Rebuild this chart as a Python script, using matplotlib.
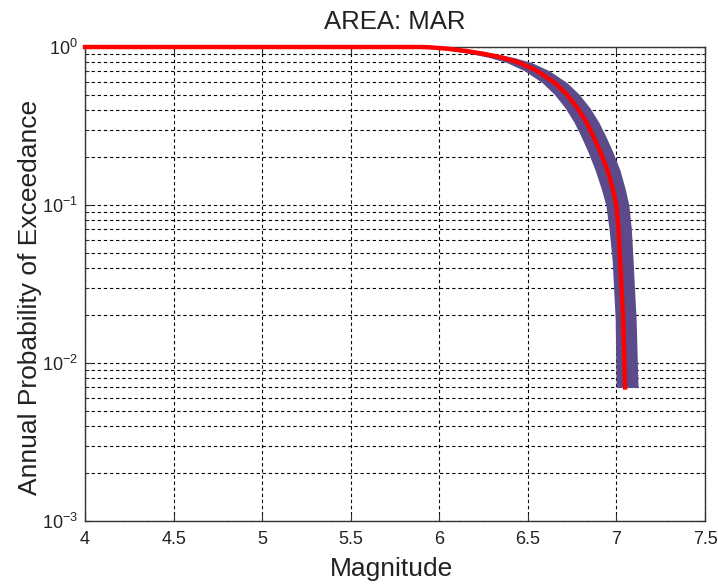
import matplotlib
matplotlib.use("Agg")
import matplotlib.pyplot as plt
from matplotlib.ticker import LogLocator, NullFormatter, FixedLocator, FixedFormatter

plt.rcParams['font.family'] = ['Liberation Sans', 'DejaVu Sans']
plt.rcParams['mathtext.default'] = 'regular'

# mean exceedance curve (red)
mag_mean = [4.0, 5.90, 5.95, 6.05, 6.15, 6.25, 6.35, 6.45, 6.55, 6.65, 6.72,
            6.78, 6.83, 6.87, 6.91, 6.95, 6.98, 7.00, 7.012, 7.021, 7.030,
            7.038, 7.049]
prob = [1.0, 1.0, 0.995, 0.975, 0.944, 0.906, 0.859, 0.798, 0.708, 0.596,
        0.501, 0.412, 0.335, 0.272, 0.216, 0.166, 0.126, 0.100, 0.0708,
        0.0447, 0.0282, 0.0191, 0.007]

# spread of the simulated curves (purple band)
band_prob = [0.995, 0.975, 0.944, 0.906, 0.859, 0.798, 0.708, 0.596, 0.501,
             0.412, 0.335, 0.272, 0.216, 0.166, 0.126, 0.100, 0.0708, 0.0447,
             0.0282, 0.0191, 0.007]
band_lo = [5.88, 5.98, 6.08, 6.18, 6.28, 6.38, 6.48, 6.58, 6.65, 6.71, 6.76,
           6.80, 6.84, 6.88, 6.915, 6.94, 6.958, 6.976, 6.985, 6.993, 6.998]
band_hi = [6.02, 6.12, 6.22, 6.32, 6.42, 6.52, 6.62, 6.72, 6.79, 6.85, 6.90,
           6.94, 6.98, 7.02, 7.05, 7.07, 7.084, 7.094, 7.103, 7.111, 7.122]

x_ticks = [4, 4.5, 5, 5.5, 6, 6.5, 7, 7.5]
x_labels = ['4', '4.5', '5', '5.5', '6', '6.5', '7', '7.5']
y_ticks = [1e-3, 1e-2, 1e-1, 1e0]
y_labels = ['$10^{-3}$', '$10^{-2}$', '$10^{-1}$', '$10^{0}$']

fig = plt.figure(figsize=(7.18, 5.84), dpi=100)
ax = fig.add_axes([0.1184, 0.1079, 0.8635, 0.8116])

ax.fill_betweenx(band_prob, band_lo, band_hi, color='#5b4b8b', lw=0, zorder=3)
ax.plot(mag_mean, prob, color='#ff0000', lw=3.2, zorder=4, clip_on=False)

ax.set_yscale('log')
ax.set_xlim(4, 7.5)
ax.set_ylim(1e-3, 1)

ax.xaxis.set_major_locator(FixedLocator(x_ticks))
ax.xaxis.set_major_formatter(FixedFormatter(x_labels))
ax.yaxis.set_major_locator(FixedLocator(y_ticks))
ax.yaxis.set_major_formatter(FixedFormatter(y_labels))
ax.yaxis.set_minor_locator(LogLocator(base=10, subs=range(2, 10)))
ax.yaxis.set_minor_formatter(NullFormatter())

ax.grid(True, which='both', color='k', linestyle=(0, (3, 2.5)), lw=0.8, zorder=1)
ax.tick_params(which='both', direction='in', top=True, right=True,
               labelsize=13, labelcolor='#222222', color='#333333')
ax.tick_params(which='major', length=5)
ax.tick_params(which='minor', length=3)
ax.tick_params(axis='x', pad=7)
ax.tick_params(axis='y', pad=5)
for s in ax.spines.values():
    s.set_color('#333333')
    s.set_linewidth(1.0)

ax.set_title('AREA: MAR', fontsize=18.5, color='#222222', pad=13)
fig.text(392 / 718, 1 - 569 / 584, 'Magnitude', fontsize=19, color='#222222',
         ha='center', va='center')
fig.text(30 / 718, 1 - 297 / 584, 'Annual Probability of Exceedance', fontsize=19,
         color='#222222', ha='center', va='center', rotation=90)

fig.savefig('out.png', dpi=100)
